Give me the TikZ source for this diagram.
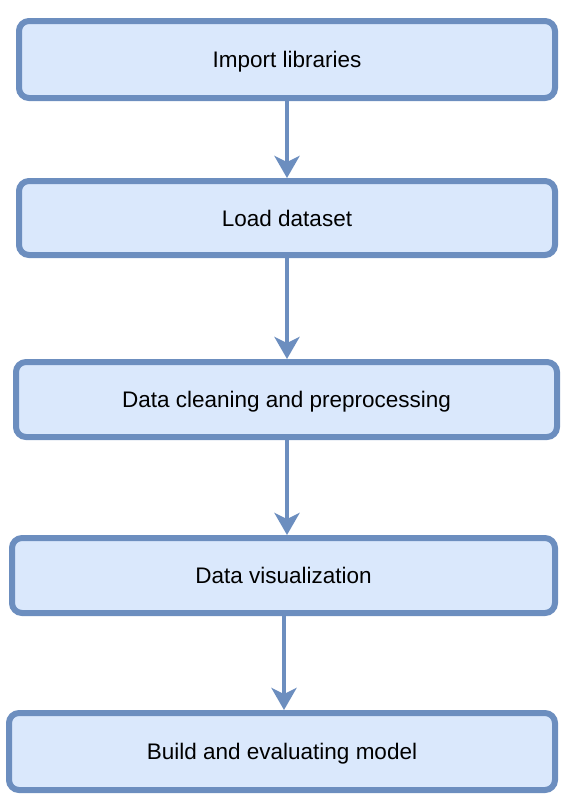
\documentclass[tikz,border=0pt]{standalone}
\usepackage{fontspec}
\setmainfont{Liberation Sans}
\usetikzlibrary{arrows.meta}

\definecolor{boxfill}{HTML}{DAE8FC}
\definecolor{boxline}{HTML}{6C8EBF}

\begin{document}
\begin{tikzpicture}[
    x=1pt, y=1pt,
    stepbox/.style={draw=boxline, fill=boxfill, line width=3pt,
                    rounded corners=5pt, inner sep=0pt, align=center,
                    text height=8.1pt, text depth=0pt,
                    font=\fontsize{11.25}{13.5}\selectfont},
    flow/.style={draw=boxline, line width=2.4pt,
                 -{Stealth[length=11pt, width=12.5pt, inset=3pt]}}
  ]
  \useasboundingbox (0,0) rectangle (283,-399.5);

  % steps of the pipeline
  \node[stepbox, minimum width=268pt, minimum height=38.5pt] (imp)
    at (143.5,-29.75) {Import libraries};
  \node[stepbox, minimum width=268pt, minimum height=37pt] (load)
    at (143.5,-109) {Load dataset};
  \node[stepbox, minimum width=270.5pt, minimum height=37.5pt] (clean)
    at (143.25,-199.75) {Data cleaning and preprocessing};
  \node[stepbox, minimum width=271.5pt, minimum height=37.5pt] (vis)
    at (141.75,-287.75) {Data visualization};
  \node[stepbox, minimum width=273pt, minimum height=38.5pt] (model)
    at (141,-375.75) {Build and evaluating model};

  % arrows
  \draw[flow] (imp.south) -- (load.north);
  \draw[flow] (load.south) -- (load.south |- clean.north);
  \draw[flow] ([yshift=2pt]load.south |- clean.south) -- (load.south |- vis.north);
  \draw[flow] ([xshift=0.25pt]vis.south) -- ([xshift=0.25pt]vis.south |- model.north);
\end{tikzpicture}
\end{document}
